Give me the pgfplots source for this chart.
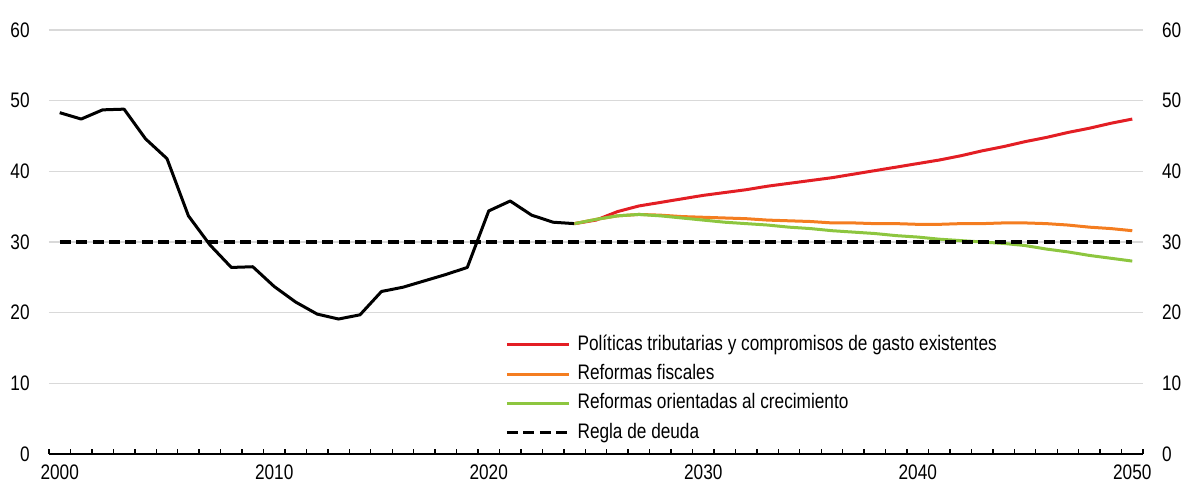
\documentclass[border=0pt]{standalone}
\usepackage{fontspec}
\setmainfont{Liberation Sans}[FakeStretch=0.82]
\usepackage{pgfplots}
\pgfplotsset{compat=1.18}

\definecolor{cred}{RGB}{227,30,36}
\definecolor{corange}{RGB}{244,125,32}
\definecolor{cgreen}{RGB}{141,198,63}
\definecolor{cgrid}{RGB}{217,217,217}

\pgfplotsset{
  base/.style={
    scale only axis, width=547pt, height=212pt,
    xmin=1999.5, xmax=2050.5, ymin=0, ymax=60,
    ytick={0,10,...,60},
    major tick length=0pt,
    /pgf/number format/assume math mode=true,
    /pgf/number format/1000 sep={},
    tick label style={font=\fontsize{10.5}{12}\selectfont},
  },
}

\begin{document}
\begin{tikzpicture}[font=\fontsize{10.5}{12}\selectfont]
\begin{axis}[base, name=ax,
    axis x line*=bottom, axis y line*=left,
    y axis line style={draw=none},
    x axis line style={black, line width=0.7pt},
    tick align=inside,
    xtick={2000,2010,...,2050},
    minor xtick={1999.5,2000.5,...,2050.5},
    minor tick length=2.5pt,
    minor tick style={black, line width=0.7pt},
    ymajorgrids, grid style={cgrid, line width=0.75pt},
    xticklabel style={anchor=north, inner sep=0pt, yshift=-5pt},
    yticklabel style={anchor=east, inner sep=0pt, xshift=-9.5pt},
    legend style={draw=none, fill=none, inner sep=0pt,
      at={(rel axis cs:0.4168,0.281)}, anchor=north west,
      row sep=5.0pt,
      nodes={inner sep=0pt, text height=7.6pt, text depth=2pt}},
    legend cell align=left,
    /tikz/every odd column/.append style={column sep=3.5pt},
    legend image code/.code={\draw[#1] (0pt,0pt) -- (31pt,0pt);},
]
\addplot[black, line width=1.5pt, line join=round, forget plot] coordinates {
(2000,48.3) (2001,47.4) (2002,48.7) (2003,48.8) (2004,44.6) (2005,41.8)
(2006,33.7) (2007,29.6) (2008,26.4) (2009,26.5) (2010,23.7) (2011,21.5)
(2012,19.8) (2013,19.1) (2014,19.7) (2015,23.0) (2016,23.6) (2017,24.5)
(2018,25.4) (2019,26.4) (2020,34.4) (2021,35.8) (2022,33.8) (2023,32.8)
(2024,32.6)};
\addplot[cred, line width=1.5pt, line join=round] coordinates {
(2024,32.6) (2025,33.1) (2026,34.3) (2027,35.1) (2028,35.6) (2029,36.1)
(2030,36.6) (2031,37.0) (2032,37.4) (2033,37.9) (2034,38.3) (2035,38.7)
(2036,39.1) (2037,39.6) (2038,40.1) (2039,40.6) (2040,41.1) (2041,41.6)
(2042,42.2) (2043,42.9) (2044,43.5) (2045,44.2) (2046,44.8) (2047,45.5)
(2048,46.1) (2049,46.8) (2050,47.4)};
\addlegendentry{Políticas tributarias y compromisos de gasto existentes}
\addplot[corange, line width=1.5pt, line join=round] coordinates {
(2024,32.6) (2025,33.2) (2026,33.7) (2027,33.9) (2028,33.8) (2029,33.6)
(2030,33.5) (2031,33.4) (2032,33.3) (2033,33.1) (2034,33.0) (2035,32.9)
(2036,32.7) (2037,32.7) (2038,32.6) (2039,32.6) (2040,32.5) (2041,32.5)
(2042,32.6) (2043,32.6) (2044,32.7) (2045,32.7) (2046,32.6) (2047,32.4)
(2048,32.1) (2049,31.9) (2050,31.6)};
\addlegendentry{Reformas fiscales}
\addplot[cgreen, line width=1.5pt, line join=round] coordinates {
(2024,32.6) (2025,33.2) (2026,33.7) (2027,33.9) (2028,33.7) (2029,33.4)
(2030,33.1) (2031,32.8) (2032,32.6) (2033,32.4) (2034,32.1) (2035,31.9)
(2036,31.6) (2037,31.4) (2038,31.2) (2039,30.9) (2040,30.7) (2041,30.4)
(2042,30.2) (2043,30.0) (2044,29.8) (2045,29.5) (2046,29.0) (2047,28.6)
(2048,28.1) (2049,27.7) (2050,27.3)};
\addlegendentry{Reformas orientadas al crecimiento}
\addplot[black, line width=1.6pt, dash pattern=on 5.5pt off 2.7pt] coordinates {
(2000,30) (2050,30)};
\addlegendentry{Regla de deuda}
\end{axis}
\begin{axis}[base,
    axis x line=none, axis y line*=right,
    y axis line style={draw=none},
    yticklabel style={anchor=west, inner sep=0pt, xshift=9.3pt},
]
\end{axis}
\pgfresetboundingbox
\path[use as bounding box] ([shift={(-24.5pt,-14.5pt)}]ax.south west)
  rectangle ([shift={(20pt,15pt)}]ax.north east);
\end{tikzpicture}
\end{document}
